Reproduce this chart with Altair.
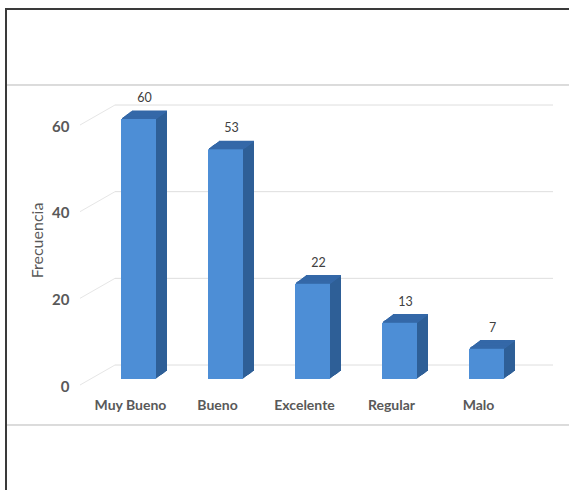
import altair as alt
import pandas as pd

categories = ["Muy Bueno", "Bueno", "Excelente", "Regular", "Malo"]
values = [60, 53, 22, 13, 7]
y_ticks = [0, 20, 40, 60]

df = pd.DataFrame({"cat": categories, "val": values})
ticks_df = pd.DataFrame({"t": y_ticks})

FONT = "Lato"
W, H = 435, 260
DEPTH_X, DEPTH_Y = 11, 8
BAR_W = 35

x_enc = alt.X("cat:N", sort=categories,
              scale=alt.Scale(paddingInner=0, paddingOuter=0),
              axis=alt.Axis(title=None, labelFont=FONT, labelFontSize=14, labelFontWeight="bold",
                            labelColor="#595959", labelOffset=-8, labelPadding=19,
                            ticks=False, domain=False, labelAngle=0))
y_scale = alt.Scale(domain=[0, 60], nice=False)
y_axis = alt.Axis(title="Frecuencia", values=y_ticks, grid=False, ticks=False, domain=False,
                  labelFont=FONT, labelFontSize=15, labelFontWeight="bold", labelColor="#595959",
                  labelOffset=7, labelPadding=26, titleFont=FONT, titleFontSize=16,
                  titleFontWeight="normal", titleColor="#595959",
                  titleX=-58, titleY=121, titleBaseline="middle", titleAlign="center", titleAngle=270)
y_enc = alt.Y("val:Q", scale=y_scale, axis=y_axis)
y_tick_enc = alt.Y("t:Q", scale=y_scale, axis=y_axis)

base = alt.Chart(df)

# back wall gridlines
grid = alt.Chart(ticks_df).mark_rule(color="#dedede", strokeWidth=1, yOffset=-14).encode(
    y=y_tick_enc, x=alt.value(20), x2=alt.value(458))
diag = alt.Chart(ticks_df).mark_rule(color="#e6e6e6", strokeWidth=1, yOffset=6, y2Offset=-14).encode(
    y=y_tick_enc, y2="t:Q", x=alt.value(-15), x2=alt.value(20))

layers = [grid, diag]

# side (extrusion) copies
for k in range(DEPTH_X, 0, -1):
    off = -k * DEPTH_Y / DEPTH_X
    layers.append(base.mark_bar(size=BAR_W, color="#2e5f97", xOffset=k, yOffset=off, y2Offset=off).encode(
        x=x_enc, y=y_enc, y2=alt.datum(0)))
# top face strips
for k in range(DEPTH_X, 0, -1):
    off = -k * DEPTH_Y / DEPTH_X
    off2 = -(k - 1) * DEPTH_Y / DEPTH_X
    layers.append(base.mark_bar(size=BAR_W, color="#3568a8", xOffset=k, yOffset=off - 0.6, y2Offset=off2).encode(
        x=x_enc, y=y_enc, y2="val:Q"))

front = base.mark_bar(size=BAR_W, color="#4d8ed6").encode(x=x_enc, y=y_enc, y2=alt.datum(0))
labels = base.mark_text(font=FONT, fontSize=12.5, color="#404040", dx=6, dy=-21, baseline="middle").encode(
    x=x_enc, y=y_enc, text="val:Q")
layers += [front, labels]

# frame decoration
frame = [
    alt.Chart(ticks_df).mark_rule(color="#d9d9d9", strokeWidth=1).encode(
        x=alt.value(-88), x2=alt.value(480), y=alt.value(-34)),
    alt.Chart(ticks_df).mark_rule(color="#d9d9d9", strokeWidth=1).encode(
        x=alt.value(-88), x2=alt.value(480), y=alt.value(306)),
    alt.Chart(ticks_df).mark_rule(color="#3a3a3a", strokeWidth=2).encode(
        x=alt.value(-89), x2=alt.value(480), y=alt.value(-110)),
    alt.Chart(ticks_df).mark_rule(color="#3a3a3a", strokeWidth=2).encode(
        x=alt.value(-89), y=alt.value(-111), y2=alt.value(380)),
]
layers += frame

chart = alt.layer(*layers).properties(
    width=W, height=H,
    padding={"left": 95, "top": 119, "right": 39, "bottom": 111},
    autosize=alt.AutoSizeParams(type="none"),
    background="white",
).configure_view(stroke=None)

chart.save("out.html", embed_options={"renderer": "svg", "actions": False})
